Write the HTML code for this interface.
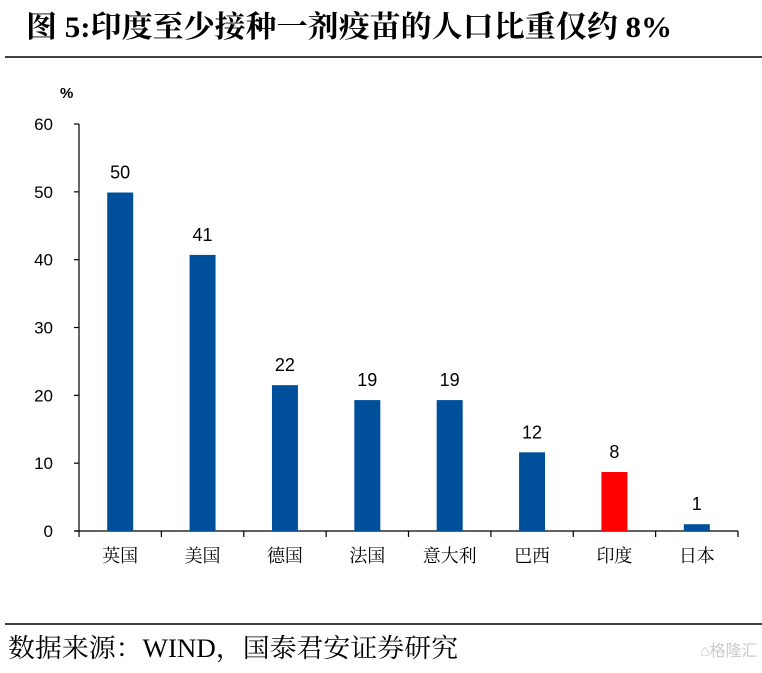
<!DOCTYPE html>
<html><head><meta charset="utf-8"><style>
body{margin:0;background:#fff;}
svg text{font-family:"Liberation Serif","Noto Serif CJK SC",serif;}
svg text.sans{font-family:"Liberation Sans","Noto Sans CJK SC",sans-serif;}
</style></head><body>
<svg width="762" height="668" viewBox="0 0 762 668" xmlns="http://www.w3.org/2000/svg">
<text x="26" y="37" font-size="30" font-weight="bold" textLength="646" lengthAdjust="spacingAndGlyphs">图 5:印度至少接种一剂疫苗的人口比重仅约 8%</text>
<line x1="5" y1="57" x2="762" y2="57" stroke="#000" stroke-width="1.5"/>
<text class="sans" x="60" y="98" font-size="15" font-weight="bold">%</text>
<g id="plot"></g>
<line x1="5" y1="624" x2="762" y2="624" stroke="#000" stroke-width="1.5"/>
<text x="8" y="657" font-size="26" textLength="450" lengthAdjust="spacingAndGlyphs">数据来源：WIND，国泰君安证券研究</text>
<text class="sans" x="700" y="656" font-size="16" fill="#ccc">⌂格隆汇</text>
</svg>
<script>
const categories=["英国","美国","德国","法国","意大利","巴西","印度","日本"];
const values=[49.9,40.7,21.5,19.3,19.3,11.6,8.7,1.0];
const labels=["50","41","22","19","19","12","8","1"];
const yTicks=[0,10,20,30,40,50,60];
const NS="http://www.w3.org/2000/svg";
const g=document.getElementById('plot');
const x0=79,x1=738,yB=531,yT=124,ymax=60;
const y=v=>yB-(v/ymax)*(yB-yT);
const band=(x1-x0)/categories.length;
const xc=i=>x0+band*(i+0.5);
function mk(t,a){const e=document.createElementNS(NS,t);for(const k in a)e.setAttribute(k,a[k]);g.appendChild(e);return e;}
let e=mk('line',{x1:x0,y1:yT,x2:x0,y2:yB,stroke:'#000','stroke-width':1.2});


yTicks.forEach(t=>{
 let l=mk('line',{x1:x0-5,y1:y(t),x2:x0,y2:y(t),stroke:'#000','stroke-width':1.2});
 
 
 let tx=mk('text',{x:x0-26,y:y(t)+6,'font-size':17,'text-anchor':'end',class:'sans'});
 tx.textContent=t;
 
 
});
e=mk('line',{x1:x0-5,y1:yB,x2:x1,y2:yB,stroke:'#000','stroke-width':1.2});


for(let i=0;i<=categories.length;i++){
 let l=mk('line',{x1:x0+band*i,y1:yB,x2:x0+band*i,y2:yB+6,stroke:'#000','stroke-width':1.2});
 
 
}
categories.forEach((c,i)=>{
 const bw=26;
 let r=mk('rect',{x:xc(i)-bw/2,y:y(values[i]),width:bw,height:yB-y(values[i]),fill:c==="印度"?'#ff0000':'#004f9b'});
 
 
 let v=mk('text',{x:xc(i),y:y(values[i])-14,'font-size':18,'text-anchor':'middle',class:'sans'});
 v.textContent=labels[i];
 
 
 let t=mk('text',{x:xc(i),y:yB+31,'font-size':18,'text-anchor':'middle'});
 t.textContent=c;
 
 
});
</script>
</body></html>
